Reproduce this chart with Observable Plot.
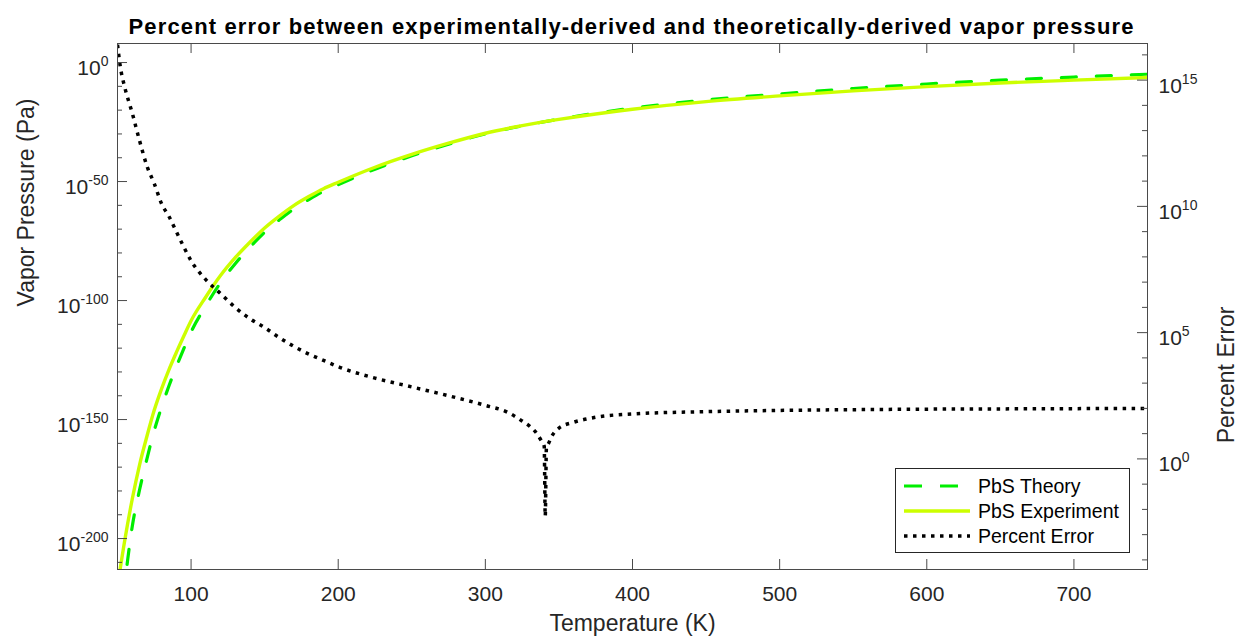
<!DOCTYPE html>
<html>
<head>
<meta charset="utf-8">
<script src="https://cdn.jsdelivr.net/npm/d3@7"></script>
<script src="https://cdn.jsdelivr.net/npm/@observablehq/plot@0.6"></script>
<style>
  html, body { margin: 0; padding: 0; background: #fff; }
  #wrap { position: relative; width: 1241px; height: 636px; font-family: "Liberation Sans", Arial, sans-serif; }
  #legend { position: absolute; left: 895px; top: 468px; width: 235px; height: 85px; box-sizing: border-box;
            border: 1px solid #262626; background: #fff; }
  .lrow { position: absolute; left: 0; height: 24px; width: 100%; }
  .lrow svg { position: absolute; left: 8px; top: 0; }
  .lrow span { position: absolute; left: 82px; top: 0; line-height: 24px; font-size: 19.5px; color: #000; white-space: nowrap; }
</style>
</head>
<body>
<div id="wrap"></div>
<script>
// ---- Data ----
// Temperature grid (K) for the vapor-pressure curves
const temperatures = [50,55,60,65,70,75,80,85,90,95,100,110,120,130,140,150,160,170,180,190,200,225,250,275,300,325,350,375,400,450,500,550,600,650,700,750];
// log10 of vapor pressure (Pa)
const experimentLog10Pa = [-220,-200.5,-183.5,-169,-157,-146,-137,-129,-121.8,-115,-108.5,-98.5,-89.5,-82,-75.5,-69.5,-64.5,-60,-56.3,-53,-50.3,-44,-38.6,-33.9,-29.7,-26.5,-23.9,-21.6,-19.6,-16.4,-14,-11.9,-10.1,-8.6,-7.4,-6.3];
const theoryLog10Pa = [-240,-218,-195,-179.5,-166.5,-154.6,-144.7,-135.8,-127.8,-120.3,-113.2,-102.2,-92.5,-84.5,-77.6,-71.3,-66.1,-61.4,-57.6,-54.1,-51.3,-44.8,-39.2,-34.3,-29.95,-26.6,-23.8,-21.3,-19.15,-15.75,-13.18,-10.93,-9.02,-7.42,-6.1,-4.9];
// Percent error curve (right axis): temperatures and log10 of percent error
const errorTemperatures = [50,52,55,60,65,70,75,80,85,90,95,100,110,120,130,140,150,160,170,180,190,200,225,250,275,300,315,325,330,335,338,340,340.7,341.5,343,345,350,360,375,400,450,500,550,600,650,700,750];
const errorLog10Percent = [16.4,15.5,14.7,13.7,12.6,11.6,10.9,10.1,9.6,9.0,8.4,7.85,7.1,6.55,6.0,5.55,5.2,4.8,4.45,4.15,3.9,3.65,3.2,2.85,2.5,2.12,1.85,1.5,1.3,1.0,0.72,0.5,-2.27,0.45,0.62,0.88,1.22,1.45,1.65,1.78,1.87,1.92,1.95,1.97,1.98,1.99,2.0];
// Axis ticks
const xTicks = [100,200,300,400,500,600,700];
const leftMajorExp = [0,-50,-100,-150,-200];
const leftMinorExp = [-210,-190,-180,-170,-160,-140,-130,-120,-110,-90,-80,-70,-60,-40,-30,-20,-10];
const rightMajorExp = [0,5,10,15];
const rightMinorExp = [-4,-3,-2,-1,1,2,3,4,6,7,8,9,11,12,13,14,16];
// Axis limits (log10)
const leftLimits = [-213, 8];
const rightLimits = [-4.38, 16.45];
const titleText = "Percent error between experimentally-derived and theoretically-derived vapor pressure";

// ---- Build tables ----
const toLeft = r => leftLimits[0] + (r - rightLimits[0]) * (leftLimits[1] - leftLimits[0]) / (rightLimits[1] - rightLimits[0]);
const fromLeft = e => rightLimits[0] + (e - leftLimits[0]) * (rightLimits[1] - rightLimits[0]) / (leftLimits[1] - leftLimits[0]);
const theory = temperatures.map((T, i) => ({T, P: 10 ** theoryLog10Pa[i]}));
const experiment = temperatures.map((T, i) => ({T, P: 10 ** experimentLog10Pa[i]}));
const pctError = errorTemperatures.map((T, i) => ({T, P: 10 ** toLeft(errorLog10Percent[i])}));

const W = 1241, H = 636;
const mL = 117, mR = 94, mT = 43, mB = 67;
const innerW = W - mL - mR, innerH = H - mT - mB;
const axisColor = "#4a4a4a";
const textColor = "#262626";

const leftMajor = leftMajorExp.map(e => 10 ** e);
const leftMinor = leftMinorExp.map(e => 10 ** e);
const rightMajor = rightMajorExp.map(r => 10 ** toLeft(r));
const rightMinor = rightMinorExp.map(r => 10 ** toLeft(r));

const chart = Plot.plot({
  width: W, height: H,
  marginLeft: mL, marginRight: mR, marginTop: mT, marginBottom: mB,
  x: {domain: [50, 750]},
  y: {type: "log", domain: [10 ** leftLimits[0], 10 ** leftLimits[1]]},
  style: {fontFamily: "'Liberation Sans', Arial, sans-serif", fontSize: "21px", color: textColor, background: "white", overflow: "visible"},
  marks: [
    Plot.line(theory, {x: "T", y: "P", stroke: "#00ee00", strokeWidth: 3.2, strokeDasharray: "15,20", curve: "monotone-x", clip: true}),
    Plot.line(experiment, {x: "T", y: "P", stroke: "#ccff00", strokeWidth: 3.4, curve: "monotone-x", clip: true}),
    Plot.line(pctError, {x: "T", y: "P", stroke: "#000", strokeWidth: 3.5, strokeDasharray: "3.5,5.5", strokeLinecap: "butt", curve: "monotone-x", clip: true}),
    Plot.frame({stroke: axisColor, strokeWidth: 1}),
    // inward ticks (MATLAB style)
    Plot.tickY(leftMajor, {insetRight: innerW - 10, stroke: axisColor}),
    Plot.tickY(leftMinor, {insetRight: innerW - 5, stroke: axisColor}),
    Plot.tickY(rightMajor, {insetLeft: innerW - 10, stroke: axisColor}),
    Plot.tickY(rightMinor, {insetLeft: innerW - 5, stroke: axisColor}),
    Plot.tickX(xTicks, {insetTop: innerH - 10, stroke: axisColor}),
    Plot.tickX(xTicks, {insetBottom: innerH - 10, stroke: axisColor}),
    // tick labels
    Plot.axisY({anchor: "left", ticks: leftMajor, tickSize: 0, tickPadding: 9, label: null, fontSize: 21, fill: textColor,
      tickFormat: d => "10^" + Math.round(Math.log10(d))}),
    Plot.axisY({anchor: "right", ticks: rightMajor, tickSize: 0, tickPadding: 11, label: null, fontSize: 21, fill: textColor,
      tickFormat: d => "10^" + Math.round(fromLeft(Math.log10(d)))}),
    Plot.axisX({anchor: "bottom", ticks: xTicks, tickSize: 0, tickPadding: 17, label: null, fontSize: 21, fill: textColor}),
    // title and axis titles
    Plot.text([titleText],
      {text: d => d, frameAnchor: "top", dx: -1.5, dy: -10, lineAnchor: "bottom", fontSize: 22, fontWeight: "bold", fill: "#000"}),
    Plot.text(["Temperature (K)"], {text: d => d, frameAnchor: "bottom", dy: 61, lineAnchor: "bottom", fontSize: 23, fill: textColor}),
    Plot.text(["Vapor Pressure (Pa)"], {text: d => d, frameAnchor: "left", dx: -84, rotate: -90, lineAnchor: "bottom", fontSize: 23, fill: textColor}),
    Plot.text(["Percent Error"], {text: d => d, frameAnchor: "right", dx: 86, rotate: -90, lineAnchor: "bottom", fontSize: 23, fill: textColor})
  ]
});

// Superscript exponents on the y tick labels
const NS = "http://www.w3.org/2000/svg";
chart.querySelectorAll('g[aria-label="y-axis tick label"] text').forEach(t => {
  const s = t.textContent;
  if (!s.includes("^")) return;
  const [base, exp] = s.split("^");
  t.textContent = "";
  const b = document.createElementNS(NS, "tspan");
  b.textContent = base;
  const e = document.createElementNS(NS, "tspan");
  e.setAttribute("dy", "-9");
  e.setAttribute("font-size", "14");
  e.textContent = exp;
  t.append(b, e);
  t.setAttribute("y", "12.5");
});
// Stretch the title to the reference width
chart.querySelectorAll("text").forEach(t => {
  if (t.textContent === titleText) {
    t.setAttribute("textLength", "1005");
    t.setAttribute("lengthAdjust", "spacing");
  }
});

const wrap = document.getElementById("wrap");
wrap.appendChild(chart);

// Legend (inside the plot area, lower right)
const legendItems = [
  {label: "PbS Theory", stroke: "#00ee00", width: 3.2, dash: "18,18"},
  {label: "PbS Experiment", stroke: "#ccff00", width: 3.4, dash: null},
  {label: "Percent Error", stroke: "#000", width: 3.5, dash: "3.5,5.5"}
];
const legend = document.createElement("div");
legend.id = "legend";
legendItems.forEach((it, i) => {
  const row = document.createElement("div");
  row.className = "lrow";
  row.style.top = (5 + i * 25) + "px";
  row.innerHTML = `<svg width="66" height="24"><line x1="0" x2="66" y1="12" y2="12" stroke="${it.stroke}" stroke-width="${it.width}" ${it.dash ? `stroke-dasharray="${it.dash}"` : ""}/></svg><span>${it.label}</span>`;
  legend.appendChild(row);
});
wrap.appendChild(legend);
</script>
</body>
</html>
